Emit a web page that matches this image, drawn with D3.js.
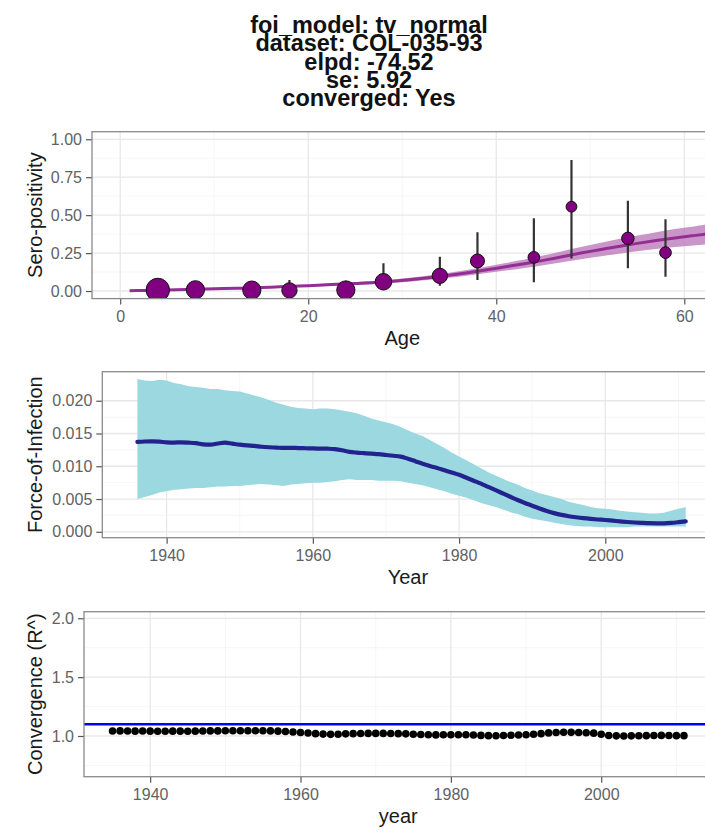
<!DOCTYPE html>
<html>
<head>
<meta charset="utf-8">
<script src="https://cdn.jsdelivr.net/npm/d3@7"></script>
<style>
  body { margin: 0; background: #ffffff; }
  svg { display: block; font-family: "Liberation Sans", Arial, Helvetica, sans-serif; }
</style>
</head>
<body>
<svg id="fig" width="705" height="836"></svg>
<script>
// ---------- Header ----------
const titleLines = [
  "foi_model: tv_normal",
  "dataset: COL-035-93",
  "elpd: -74.52",
  "se: 5.92",
  "converged: Yes"
];

// ---------- Sero-positivity by age: observed survey groups ----------
const obsAge   = [4, 8, 14, 18, 24, 28, 34, 38, 44, 48, 54, 58];
const obsSero  = [0.007, 0.008, 0.006, 0.004, 0.007, 0.061, 0.100, 0.198, 0.222, 0.556, 0.347, 0.253];
const obsLower = [0.000, 0.000, 0.000, 0.000, 0.000, 0.010, 0.035, 0.072, 0.057, 0.215, 0.150, 0.094];
const obsUpper = [0.020, 0.030, 0.035, 0.072, 0.040, 0.183, 0.226, 0.387, 0.479, 0.864, 0.595, 0.473];
const obsN     = [28, 17, 17, 12, 17, 14, 12, 10, 7, 6, 8, 7];

// ---------- Sero-positivity by age: fitted model ----------
const fitAge = [1, 3, 5, 7, 9, 11, 13, 15, 17, 19, 21, 23, 25, 27, 29, 31, 33, 35, 37, 39,
                41, 43, 45, 47, 49, 51, 53, 55, 57, 59, 61, 63, 65, 67, 69, 71, 73, 75];
const fitMed = [0.002, 0.004, 0.007, 0.010, 0.013, 0.016, 0.019, 0.023, 0.028, 0.033,
                0.038, 0.044, 0.050, 0.056, 0.065, 0.076, 0.089, 0.104, 0.121, 0.140,
                0.160, 0.180, 0.202, 0.226, 0.250, 0.272, 0.294, 0.314, 0.333, 0.350,
                0.365, 0.379, 0.393, 0.406, 0.418, 0.430, 0.441, 0.452];
const fitLo  = [0.001, 0.003, 0.005, 0.008, 0.010, 0.013, 0.015, 0.019, 0.023, 0.027,
                0.031, 0.036, 0.041, 0.046, 0.054, 0.063, 0.074, 0.087, 0.102, 0.118,
                0.135, 0.152, 0.170, 0.190, 0.210, 0.228, 0.246, 0.262, 0.277, 0.290,
                0.300, 0.310, 0.318, 0.326, 0.333, 0.340, 0.346, 0.352];
const fitHi  = [0.003, 0.005, 0.009, 0.012, 0.016, 0.019, 0.023, 0.027, 0.033, 0.039,
                0.045, 0.052, 0.059, 0.066, 0.076, 0.089, 0.104, 0.121, 0.140, 0.162,
                0.185, 0.208, 0.234, 0.262, 0.290, 0.316, 0.342, 0.366, 0.388, 0.408,
                0.426, 0.443, 0.459, 0.474, 0.488, 0.501, 0.513, 0.524];

// ---------- Force-of-infection by year ----------
const foiYear = d3.range(1936, 2012);
const foiMed = [
  0.01372, 0.01378, 0.01380, 0.01375, 0.01366, 0.01362, 0.01365, 0.01360, 0.01352, 0.01335,
  0.01330, 0.01348, 0.01360, 0.01345, 0.01330, 0.01318, 0.01310, 0.01298, 0.01290, 0.01285,
  0.01280, 0.01282, 0.01278, 0.01275, 0.01272, 0.01270, 0.01268, 0.01262, 0.01245, 0.01220,
  0.01208, 0.01200, 0.01192, 0.01185, 0.01172, 0.01160, 0.01148, 0.01115, 0.01078, 0.01040,
  0.01005, 0.00975, 0.00940, 0.00905, 0.00870, 0.00825, 0.00780, 0.00735, 0.00685, 0.00635,
  0.00585, 0.00535, 0.00485, 0.00440, 0.00398, 0.00355, 0.00318, 0.00285, 0.00258, 0.00238,
  0.00222, 0.00208, 0.00197, 0.00188, 0.00180, 0.00170, 0.00160, 0.00150, 0.00142, 0.00136,
  0.00131, 0.00129, 0.00130, 0.00136, 0.00147, 0.00160
];
const foiUpper = [
  0.0233, 0.0231, 0.0230, 0.0232, 0.0231, 0.0227, 0.0225, 0.0222, 0.0221, 0.0220,
  0.0218, 0.0218, 0.0216, 0.0215, 0.0214, 0.0211, 0.0208, 0.0205, 0.0201, 0.0197,
  0.0194, 0.0191, 0.0189, 0.0188, 0.0187, 0.0188, 0.0188, 0.0187, 0.0185, 0.0183,
  0.0181, 0.0177, 0.0173, 0.0170, 0.0167, 0.0164, 0.0160, 0.0155, 0.0150, 0.0146,
  0.0140, 0.0134, 0.0128, 0.0121, 0.0115, 0.0109, 0.0103, 0.0097, 0.0091, 0.0086,
  0.0081, 0.0076, 0.0072, 0.0067, 0.0063, 0.0059, 0.0056, 0.0053, 0.0050, 0.0046,
  0.0043, 0.0041, 0.0038, 0.0036, 0.0035, 0.0034, 0.0032, 0.0031, 0.0030, 0.0029,
  0.0028, 0.0028, 0.0029, 0.0032, 0.0035, 0.0038
];
const foiLower = [
  0.0050, 0.0053, 0.0056, 0.0060, 0.0062, 0.0064, 0.0065, 0.0066, 0.0067, 0.0067,
  0.0068, 0.0069, 0.0069, 0.0070, 0.0070, 0.0071, 0.0072, 0.0073, 0.0072, 0.0071,
  0.0070, 0.0072, 0.0073, 0.0074, 0.0075, 0.0075, 0.0076, 0.0077, 0.0079, 0.0080,
  0.0079, 0.0079, 0.0079, 0.0078, 0.0078, 0.0078, 0.0077, 0.0075, 0.0073, 0.0071,
  0.0068, 0.0065, 0.0062, 0.0058, 0.0055, 0.0052, 0.0048, 0.0044, 0.0041, 0.0038,
  0.0034, 0.0030, 0.0027, 0.0023, 0.0020, 0.0018, 0.0016, 0.0014, 0.0012, 0.0010,
  0.0009, 0.0008, 0.0008, 0.0007, 0.0007, 0.0007, 0.0007, 0.0007, 0.0008, 0.0008,
  0.0008, 0.0008, 0.0008, 0.0008, 0.0008, 0.0008
];

// ---------- Convergence diagnostic (R-hat) by year ----------
const rhatYear = d3.range(1935, 2012);
const rhat = [
  1.042, 1.043, 1.042, 1.041, 1.042, 1.041, 1.040, 1.040, 1.041, 1.041,
  1.040, 1.041, 1.042, 1.043, 1.043, 1.044, 1.044, 1.045, 1.045, 1.044,
  1.044, 1.043, 1.041, 1.038, 1.034, 1.030, 1.025, 1.020, 1.016, 1.014,
  1.015, 1.018, 1.020, 1.021, 1.022, 1.022, 1.022, 1.021, 1.020, 1.018,
  1.015, 1.012, 1.010, 1.009, 1.010, 1.011, 1.011, 1.010, 1.008, 1.005,
  1.003, 1.002, 1.004, 1.006, 1.008, 1.011, 1.015, 1.020, 1.026, 1.030,
  1.032, 1.031, 1.030, 1.028, 1.024, 1.015, 1.004, 1.001, 1.000, 1.001,
  1.002, 1.003, 1.004, 1.005, 1.004, 1.003, 1.003
];
const rhatThreshold = 1.1;

// ---------- Tick values ----------
const ageTicks = [0, 20, 40, 60];
const ageMinor = [10, 30, 50];
const seroTicks = [0, 0.25, 0.5, 0.75, 1];
const seroMinor = [0.125, 0.375, 0.625, 0.875];
const yearTicks = [1940, 1960, 1980, 2000];
const yearMinor = [1950, 1970, 1990, 2010];
const foiTicks = [0, 0.005, 0.01, 0.015, 0.02];
const foiMinor = [0.0025, 0.0075, 0.0125, 0.0175];
const rhatTicks = [1.0, 1.5, 2.0];
const rhatMinor = [0.75, 1.25, 1.75];

// ---------- Drawing ----------
const svg = d3.select("#fig");
const TICK_COLOR = "#626262";
const TEXT_COLOR = "#1a1a1a";

// Title block: tightly stacked bold lines
const title = svg.append("g").attr("class", "title");
titleLines.forEach((line, i) => {
  title.append("text")
    .attr("x", 369)
    .attr("y", 33 + i * 18.3)
    .attr("text-anchor", "middle")
    .attr("font-size", 23.5)
    .attr("font-weight", "bold")
    .attr("fill", "#111")
    .text(line);
});

let clipId = 0;
function panel(opt) {
  const { x, y, xTicks, xMinor, yTicks, yMinor, yFmt, xTitle, yTitle } = opt;
  const [x0, x1] = x.range();
  const [y1, y0] = y.range(); // y1 = bottom, y0 = top
  const g = svg.append("g");

  // background grid
  const grid = g.append("g");
  grid.selectAll(".vminor").data(xMinor).join("line")
    .attr("x1", d => x(d)).attr("x2", d => x(d)).attr("y1", y0).attr("y2", y1)
    .attr("stroke", "#f2f2f2").attr("stroke-width", 0.7);
  grid.selectAll(".hminor").data(yMinor).join("line")
    .attr("x1", x0).attr("x2", x1).attr("y1", d => y(d)).attr("y2", d => y(d))
    .attr("stroke", "#f2f2f2").attr("stroke-width", 0.7);
  grid.selectAll(".vmajor").data(xTicks).join("line")
    .attr("x1", d => x(d)).attr("x2", d => x(d)).attr("y1", y0).attr("y2", y1)
    .attr("stroke", "#e8e8e8").attr("stroke-width", 1.3);
  grid.selectAll(".hmajor").data(yTicks).join("line")
    .attr("x1", x0).attr("x2", x1).attr("y1", d => y(d)).attr("y2", d => y(d))
    .attr("stroke", "#e8e8e8").attr("stroke-width", 1.3);

  // clipped plotting layer
  const id = "clip" + (clipId++);
  g.append("clipPath").attr("id", id).append("rect")
    .attr("x", x0).attr("y", y0).attr("width", x1 - x0).attr("height", y1 - y0);
  const layer = g.append("g").attr("clip-path", `url(#${id})`);

  // axes
  const ax = g.append("g").attr("transform", `translate(0,${y1})`)
    .call(d3.axisBottom(x).tickValues(xTicks).tickFormat(d3.format("d")).tickSize(6).tickPadding(6));
  const ay = g.append("g").attr("transform", `translate(${x0},0)`)
    .call(d3.axisLeft(y).tickValues(yTicks).tickFormat(yFmt).tickSize(6).tickPadding(4));
  [ax, ay].forEach(a => {
    a.select(".domain").remove();
    a.selectAll(".tick line").attr("stroke", "#555").attr("stroke-width", 1.2);
    a.selectAll(".tick text").attr("fill", TICK_COLOR).attr("font-size", 16)
      .attr("font-family", "Liberation Sans, Arial, sans-serif");
  });

  // panel border
  g.append("rect")
    .attr("x", x0).attr("y", y0).attr("width", x1 - x0).attr("height", y1 - y0)
    .attr("fill", "none").attr("stroke", "#8a8a8a").attr("stroke-width", 1.3);

  // axis titles
  g.append("text")
    .attr("x", (x0 + x1) / 2).attr("y", y1 + 46.5)
    .attr("text-anchor", "middle").attr("font-size", 20).attr("fill", TEXT_COLOR)
    .text(xTitle);
  g.append("text")
    .attr("transform", `translate(41.5,${(y0 + y1) / 2}) rotate(-90)`)
    .attr("text-anchor", "middle").attr("font-size", 20).attr("fill", TEXT_COLOR)
    .text(yTitle);

  return layer;
}

// ----- Panel 1: sero-positivity vs age -----
const x1s = d3.scaleLinear().domain([-3, 63]).range([92, 712.5]);
const y1s = d3.scaleLinear().domain([-0.05, 1.05]).range([298.6, 131.7]);
const p1 = panel({
  x: x1s, y: y1s, xTicks: ageTicks, xMinor: ageMinor, yTicks: seroTicks, yMinor: seroMinor,
  yFmt: d3.format(".2f"), xTitle: "Age", yTitle: "Sero-positivity"
});
const fit = fitAge.map((a, i) => ({ a, m: fitMed[i], lo: fitLo[i], hi: fitHi[i] }));
p1.append("path").datum(fit)
  .attr("d", d3.area().x(d => x1s(d.a)).y0(d => y1s(d.lo)).y1(d => y1s(d.hi)).curve(d3.curveMonotoneX))
  .attr("fill", "#b873b8").attr("fill-opacity", 0.75);
p1.append("path").datum(fit)
  .attr("d", d3.line().x(d => x1s(d.a)).y(d => y1s(d.m)).curve(d3.curveMonotoneX))
  .attr("fill", "none").attr("stroke", "#932f93").attr("stroke-width", 3);

const obs = obsAge.map((a, i) => ({ a, p: obsSero[i], lo: obsLower[i], hi: obsUpper[i], n: obsN[i] }));
const rScale = d3.scaleSqrt().domain([0, d3.max(obsN)]).range([0, 11.7]);
p1.selectAll(".err").data(obs).join("line")
  .attr("x1", d => x1s(d.a)).attr("x2", d => x1s(d.a))
  .attr("y1", d => y1s(d.lo)).attr("y2", d => y1s(d.hi))
  .attr("stroke", "#333").attr("stroke-width", 2.2);
p1.selectAll(".pt").data(obs).join("circle")
  .attr("cx", d => x1s(d.a)).attr("cy", d => y1s(d.p)).attr("r", d => rScale(d.n))
  .attr("fill", "#800080").attr("stroke", "#111").attr("stroke-width", 1);

// ----- Panel 2: force-of-infection vs year -----
const x2s = d3.scaleLinear().domain([1931.2, 2014.8]).range([102.3, 713.5]);
const y2s = d3.scaleLinear().domain([-0.0009, 0.02443]).range([537.7, 371.7]);
const p2 = panel({
  x: x2s, y: y2s, xTicks: yearTicks, xMinor: yearMinor, yTicks: foiTicks, yMinor: foiMinor,
  yFmt: d3.format(".3f"), xTitle: "Year", yTitle: "Force-of-Infection"
});
const foi = foiYear.map((yr, i) => ({ yr, m: foiMed[i], lo: foiLower[i], hi: foiUpper[i] }));
p2.append("path").datum(foi)
  .attr("d", d3.area().x(d => x2s(d.yr)).y0(d => y2s(d.lo)).y1(d => y2s(d.hi)))
  .attr("fill", "#9bd8df");
p2.append("path").datum(foi)
  .attr("d", d3.line().x(d => x2s(d.yr)).y(d => y2s(d.m)).curve(d3.curveMonotoneX))
  .attr("fill", "none").attr("stroke", "#23238f").attr("stroke-width", 4.2)
  .attr("stroke-linecap", "round");

// ----- Panel 3: convergence vs year -----
const x3s = d3.scaleLinear().domain([1931.2, 2014.8]).range([84, 712.5]);
const y3s = d3.scaleLinear().domain([0.654, 2.056]).range([776.7, 611.7]);
const p3 = panel({
  x: x3s, y: y3s, xTicks: yearTicks, xMinor: yearMinor, yTicks: rhatTicks, yMinor: rhatMinor,
  yFmt: d3.format(".1f"), xTitle: "year", yTitle: "Convergence (R^)"
});
p3.append("line")
  .attr("x1", x3s.range()[0]).attr("x2", x3s.range()[1])
  .attr("y1", y3s(rhatThreshold)).attr("y2", y3s(rhatThreshold))
  .attr("stroke", "#0000ff").attr("stroke-width", 2.6);
p3.selectAll(".rh").data(rhatYear.map((yr, i) => ({ yr, v: rhat[i] }))).join("circle")
  .attr("cx", d => x3s(d.yr)).attr("cy", d => y3s(d.v)).attr("r", 3.8)
  .attr("fill", "#000");
</script>
</body>
</html>
